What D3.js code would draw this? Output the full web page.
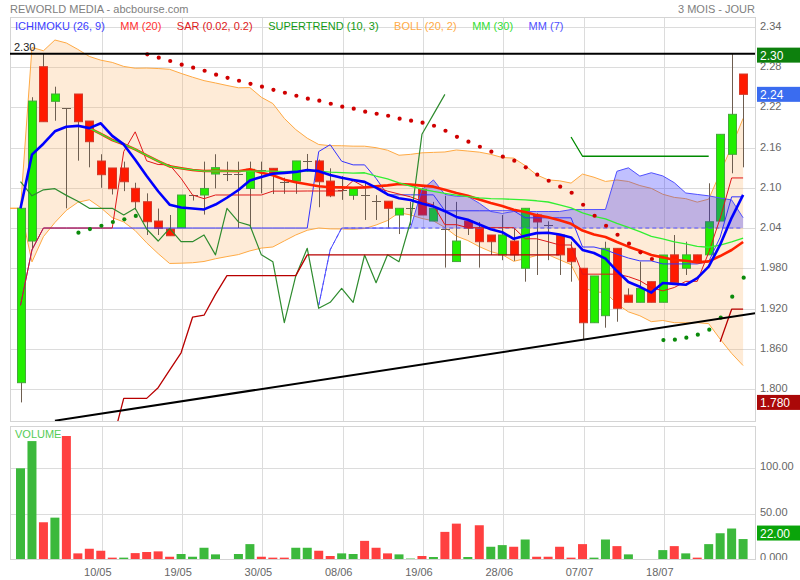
<!DOCTYPE html>
<html><head><meta charset="utf-8">
<script src="https://cdn.jsdelivr.net/npm/d3@7"></script>
<style>body{margin:0;background:#fff}svg{display:block;font-family:"Liberation Sans",Arial,sans-serif}</style>
</head><body><svg id="c" width="800" height="580"></svg>
<script>
// ---- data ----
const opens =[1.8094,2.0206,2.2805,2.2289,2.2185,2.2398,2.1995,2.1399,2.1295,2.1295,2.0992,2.0792,2.0504,2.0385,2.0405,2.0892,2.0892,2.1205,2.1205,2.1205,2.099,2.1265,2.129,2.109,2.11,2.14,2.14,2.11,2.097,2.0887,2.0887,2.080,2.080,2.0594,2.0694,2.0977,2.0504,2.0385,1.990,2.0504,2.0396,2.0296,2.0,2.0206,1.980,2.0594,2.044,2.0296,2.0097,1.980,1.8988,1.9093,2.0097,1.940,1.9293,1.960,1.9293,2.0,1.980,2.0,2.0,2.0504,2.1499,2.2696];
const highs =[2.0694,2.235,2.30,2.2507,2.2185,2.2398,2.1995,2.15,2.1295,2.139,2.1075,2.0917,2.069,2.0594,2.0892,2.0892,2.139,2.15,2.139,2.139,2.139,2.139,2.129,2.115,2.14,2.1504,2.142,2.129,2.1175,2.0986,2.109,2.089,2.080,2.0694,2.079,2.10,2.079,2.088,2.079,2.0504,2.049,2.0296,2.0594,2.0396,2.0694,2.062,2.05,2.0296,2.0196,1.980,1.9685,2.0196,2.0097,1.950,1.9898,1.96,1.9998,2.0296,2.0196,2.0,2.1067,2.1797,2.30,2.2696];
const lows  =[1.780,2.008,2.1985,2.20,2.0694,2.1404,2.1305,2.10,2.09,2.095,2.0668,2.0296,2.0296,2.0285,2.0405,2.081,2.06,2.099,2.11,2.04,2.04,2.0917,2.0907,2.091,2.091,2.124,2.071,2.086,2.082,2.082,2.052,2.052,2.0396,2.031,2.044,2.0594,2.0504,1.981,1.990,2.0296,1.981,1.9998,1.992,1.991,1.96,1.97,1.992,1.97,1.96,1.873,1.8988,1.8914,1.9003,1.9293,1.9293,1.9293,1.9293,1.9585,1.97,1.9898,2.0,2.0504,2.1216,2.1305];
const closes=[2.0694,2.2293,2.1985,2.2398,2.2185,2.1985,2.1687,2.1195,2.0986,2.109,2.0792,2.0494,2.0396,2.0285,2.0892,2.0892,2.099,2.13,2.1205,2.1205,2.1275,2.1265,2.1216,2.109,2.14,2.14,2.109,2.088,2.097,2.0986,2.0887,2.080,2.0694,2.0694,2.0694,2.0594,2.0694,2.0385,2.0206,2.0396,2.0196,2.0196,2.0296,2.0,2.0694,2.049,2.044,2.0,1.9898,1.8988,1.9685,2.0097,1.9203,1.9293,1.950,1.9293,1.9998,1.9585,2.0,1.9898,2.0494,2.1797,2.2095,2.2393];
const volumes=[100,130,40.5,45.6,135.6,6.2,11.3,9.1,1.5,1.5,6.5,7.7,8.4,2.5,5.5,2.5,12.4,5.1,0,5.5,16.4,2.5,1.5,1.5,12.4,12.4,9.1,3.3,6.2,5.5,20,12.4,6.2,5.1,0.5,3.3,2.2,29.9,39,2.2,37.2,13.5,15.3,13.5,21.5,2.5,2.5,13.5,1.5,16.4,1.5,21.5,14.2,5.1,0,0,9.8,14.2,6.2,1.5,16.4,28.4,33.6,22];
const sarValues=[null,null,null,null,null,2.033,2.0385,2.0434,2.049,2.053,2.058,2.299,2.294,2.289,2.2835,2.279,2.2745,2.2686,2.264,2.2596,2.255,2.2507,2.246,2.2417,2.2372,2.2328,2.2298,2.2253,2.2209,2.2179,2.2134,2.2104,2.2074,2.203,2.2,2.197,2.1925,2.185,2.176,2.1687,2.1612,2.1538,2.1463,2.1404,2.1305,2.1195,2.1105,2.1016,2.0926,2.0747,2.0583,2.0434,2.03,2.0166,2.0038,1.9938,1.873,1.8735,1.8765,1.881,1.8884,1.9063,1.9376,1.966];
const superLow=[null,null,null,null,null,null,null,null,1.72,1.786,1.786,1.786,1.802,1.828,1.854,1.907,1.910,1.941,1.969,1.969,1.969,1.969,1.969,1.969,1.969,2.0,2.0,2.0,2.0,2.0,2.0,2.0,2.0,2.0,2.0,2.0,2.0,2.0,2.0,2.0,2.0,2.0,2.0,2.0,2.0,2.0,2.0,2.0,null,null,null,null,null,null,null,null,null,null,null,null,null,1.8705,1.919,1.919];
const superHigh=[null,null,null,null,null,null,null,null,null,null,null,null,null,null,null,null,null,null,null,null,null,null,null,null,null,null,null,null,null,null,null,null,null,null,null,null,null,null,null,null,null,null,null,null,null,null,null,null,2.1757,2.147,2.147,2.147,2.147,2.147,2.147,2.147,2.147,2.147,2.147,2.147,2.147,null,null,null];
const dateTickIndex=[7,14,21,28,35,42,49,56];
const dateTickLabels=["10/05","19/05","30/05","08/06","19/06","28/06","07/07","18/07"];
const priceTicks=[2.34,2.28,2.22,2.16,2.10,2.04,1.98,1.92,1.86,1.80];
const volumeTicks=[0,50,100];
const resistanceLevel=2.30;
const trendIdx=[3,64.04];
const trendVal=[1.7527,1.9128];
const legendItems=[["ICHIMOKU (26, 9)","#3c3cff"],["MM (20)","#ff3030"],["SAR (0.02, 0.2)","#dd2020"],["SUPERTREND (10, 3)","#149a14"],["BOLL (20, 2)","#ffaa44"],["MM (30)","#33dd33"],["MM (7)","#5050ff"]];

// ---- layout ----
const L=10,R=755,T=17,B=421,VT=426,VB=559;
const n=closes.length, idx=d3.range(n);
const x=d3.scaleLinear().domain([0,n-1]).range([20.5,743.1]);
const y=d3.scaleLinear().domain([1.80,2.34]).range([389,26.8]);
const yv=d3.scaleLinear().domain([0,100]).range([559,468.3]);
const fmtP=v=>v>=2?v.toFixed(2):v.toFixed(3);
const fmtV=v=>v===0?"0.000":v.toFixed(2);

// ---- indicators ----
const win=(arr,k,i)=>arr.slice(Math.max(0,i-k+1),i+1);
const sma=(k,i)=>d3.mean(win(closes,k,i));
const mid=(k,i)=>(d3.max(win(highs,k,i))+d3.min(win(lows,k,i)))/2;
const mm7=idx.map(i=>({i,v:sma(7,i)}));
const mm20=idx.filter(i=>i>=6).map(i=>({i,v:sma(20,i)}));
const mm30=idx.filter(i=>i>=6).map(i=>({i,v:sma(30,i)}));
const boll=idx.map(i=>{const w=win(closes,20,i),m=d3.mean(w),sd=Math.sqrt(d3.mean(w,v=>(v-m)**2));return {i,up:m+2*sd,lo:m-2*sd};});
boll.unshift({i:x.invert(L),up:boll[0].up,lo:boll[0].lo});
const tenkan=idx.map(i=>mid(9,i)), kijun=idx.map(i=>mid(26,i));
const cloud=idx.filter(j=>j>=26).map(j=>({i:j,a:(tenkan[j-26]+kijun[j-26])/2,b:mid(52,j-26)}));
const chikou=idx.filter(i=>i+26<n).map(i=>({i,v:closes[i+26]}));

const svg=d3.select("#c");
const defs=svg.append("defs");
defs.append("clipPath").attr("id","pc").append("rect").attr("x",L).attr("y",T).attr("width",R-L).attr("height",B-T);
defs.append("clipPath").attr("id","vc").append("rect").attr("x",L).attr("y",VT).attr("width",R-L).attr("height",VB-VT);
defs.append("clipPath").attr("id","ac").append("rect").attr("x",R).attr("y",VT).attr("width",45).attr("height",VB-VT+1);

// titles
svg.append("text").attr("x",L).attr("y",13).attr("font-size",11).attr("fill","#808080").text("REWORLD MEDIA - abcbourse.com");
svg.append("text").attr("x",R).attr("y",13).attr("text-anchor","end").attr("font-size",11).attr("fill","#808080").text("3 MOIS - JOUR");

// grids
const grid=svg.append("g").attr("stroke","#dcdcdc").attr("stroke-width",1);
grid.selectAll(".hg").data(priceTicks).join("line").attr("x1",L).attr("x2",R).attr("y1",d=>Math.round(y(d))+0.5).attr("y2",d=>Math.round(y(d))+0.5);
grid.selectAll(".vg").data(volumeTicks.slice(1)).join("line").attr("x1",L).attr("x2",R).attr("y1",d=>Math.round(yv(d))+0.5).attr("y2",d=>Math.round(yv(d))+0.5);
grid.selectAll(".xg").data(dateTickIndex).join("line").attr("x1",d=>Math.round(x(d))+1.5).attr("x2",d=>Math.round(x(d))+1.5).attr("y1",T).attr("y2",B);
grid.selectAll(".xg2").data(dateTickIndex).join("line").attr("x1",d=>Math.round(x(d))+1.5).attr("x2",d=>Math.round(x(d))+1.5).attr("y1",VT).attr("y2",VB);
svg.append("rect").attr("x",L+0.5).attr("y",T+0.5).attr("width",R-L).attr("height",B-T).attr("fill","none").attr("stroke","#d4d4d4");
svg.append("rect").attr("x",L+0.5).attr("y",VT+0.5).attr("width",R-L).attr("height",VB-VT).attr("fill","none").attr("stroke","#d4d4d4");

const P=svg.append("g").attr("clip-path","url(#pc)");
// bollinger
P.append("path").datum(boll).attr("fill","rgba(250,175,95,0.25)").attr("d",d3.area().x(d=>x(d.i)).y0(d=>y(d.lo)).y1(d=>y(d.up)));
["up","lo"].forEach(k=>P.append("path").datum(boll).attr("fill","none").attr("stroke","#ffaa44").attr("stroke-width",1).attr("d",d3.line().x(d=>x(d.i)).y(d=>y(d[k]))));

// candles
const cw=8;
const cg=P.append("g");
cg.selectAll(".w").data(idx).join("line").attr("x1",i=>Math.round(x(i))+0.5).attr("x2",i=>Math.round(x(i))+0.5)
  .attr("y1",i=>y(highs[i])).attr("y2",i=>y(lows[i])).attr("stroke","#6e5e50").attr("stroke-width",1);
const bodies=idx.filter(i=>Math.abs(y(opens[i])-y(closes[i]))>=1.5);
const dojis=idx.filter(i=>Math.abs(y(opens[i])-y(closes[i]))<1.5);
cg.selectAll(".b").data(bodies).join("rect").attr("x",i=>Math.round(x(i))-cw/2+0.5).attr("width",cw)
  .attr("y",i=>y(Math.max(opens[i],closes[i]))).attr("height",i=>Math.abs(y(opens[i])-y(closes[i])))
  .attr("fill",i=>closes[i]>opens[i]?"#22ee00":"#ff1a00").attr("stroke",i=>closes[i]>opens[i]?"#45a83a":"#d23a2a").attr("stroke-width",1);
cg.selectAll(".d").data(dojis).join("line").attr("x1",i=>Math.round(x(i))-cw/2).attr("x2",i=>Math.round(x(i))+cw/2+1)
  .attr("y1",i=>Math.round(y(closes[i]))+0.5).attr("y2",i=>Math.round(y(closes[i]))+0.5).attr("stroke","#6e5e50");

// ichimoku cloud
P.append("path").datum(cloud).attr("fill","rgba(30,30,255,0.28)").attr("d",d3.area().x(d=>x(d.i)).y0(d=>y(d.b)).y1(d=>y(d.a)));
P.append("path").datum(cloud).attr("fill","none").attr("stroke","#5050ff").attr("stroke-width",1).attr("stroke-dasharray","4,3").attr("d",d3.line().x(d=>x(d.i)).y(d=>y(d.b)));
P.append("path").datum(cloud).attr("fill","none").attr("stroke","#5050ff").attr("stroke-width",1).attr("d",d3.line().x(d=>x(d.i)).y(d=>y(d.a)));

const line=d3.line().defined(d=>d.v!=null).x(d=>x(d.i)).y(d=>y(d.v));
const draw=(data,color,w)=>P.append("path").datum(data).attr("fill","none").attr("stroke",color).attr("stroke-width",w).attr("stroke-linejoin","round").attr("d",line);
draw(idx.map(i=>({i,v:kijun[i]})),"#3333ff",1);
draw(idx.map(i=>({i,v:tenkan[i]})),"#e01818",1);
draw(chikou,"#2e8b2e",1.2);
draw(idx.map(i=>({i,v:superLow[i]})),"#b80000",1.3);
draw(idx.map(i=>({i,v:superHigh[i]})),"#008a00",1.3);
draw(mm20,"#ff2200",2.6);
draw(mm30,"#33ee33",1.3);
draw(mm7,"#0000ff",2.6);

// SAR
P.selectAll(".sar").data(idx.filter(i=>sarValues[i]!=null)).join("circle").attr("cx",i=>x(i)+0.6).attr("cy",i=>y(sarValues[i])).attr("r",2.1)
  .attr("fill",i=>sarValues[i]>closes[i]?"#d00000":"#0a8a0a");

// resistance & trend lines
P.append("line").attr("x1",L).attr("x2",R).attr("y1",y(resistanceLevel)).attr("y2",y(resistanceLevel)).attr("stroke","#000").attr("stroke-width",2);
P.append("line").attr("x1",x(trendIdx[0])).attr("x2",x(trendIdx[1])).attr("y1",y(trendVal[0])).attr("y2",y(trendVal[1])).attr("stroke","#000").attr("stroke-width",2);
svg.append("text").attr("x",14).attr("y",y(resistanceLevel)-2.5).attr("font-size",11).attr("fill","#222").text(resistanceLevel.toFixed(2));

// legend
let lx=15;
legendItems.forEach(([t,c])=>{const tx=svg.append("text").attr("x",lx).attr("y",29.5).attr("font-size",11).attr("fill",c).text(t);lx+=tx.node().getComputedTextLength()+15.5;});

// volume
const V=svg.append("g").attr("clip-path","url(#vc)");
V.selectAll("rect").data(idx.filter(i=>volumes[i]>0)).join("rect").attr("x",i=>x(i)-4.5).attr("width",9)
  .attr("y",i=>yv(volumes[i])).attr("height",i=>VB-yv(volumes[i]))
  .attr("fill",i=>(i===0||closes[i]>=closes[i-1])?"#3cb93c":"#ff4040");
svg.append("text").attr("x",15).attr("y",438).attr("font-size",11).attr("fill","#55cc55").text("VOLUME");

// axes
const ax=svg.append("g").attr("transform",`translate(${R+2},-1)`).call(d3.axisRight(y).tickValues(priceTicks).tickFormat(fmtP).tickSize(0).tickPadding(3));
ax.select(".domain").remove();
ax.selectAll("text").attr("font-size",11).attr("fill","#666").attr("font-family","Liberation Sans, Arial, sans-serif");
const avx=svg.append("g").attr("clip-path","url(#ac)").append("g").attr("transform",`translate(${R+2},-2)`).call(d3.axisRight(yv).tickValues(volumeTicks).tickFormat(fmtV).tickSize(0).tickPadding(3));
avx.select(".domain").remove();
avx.selectAll("text").attr("font-size",11).attr("fill","#666").attr("font-family","Liberation Sans, Arial, sans-serif");
const axb=svg.append("g").attr("transform",`translate(0,${VB})`).call(d3.axisBottom(d3.scaleLinear().domain(x.domain()).range(x.range().map(v=>v-3.5))).tickValues(dateTickIndex).tickFormat((d,k)=>dateTickLabels[k]).tickSize(0).tickPadding(9));
axb.select(".domain").remove();
axb.selectAll("text").attr("font-size",11).attr("fill","#666").attr("font-family","Liberation Sans, Arial, sans-serif");

// value boxes
const box=(cy,txt,fill)=>{svg.append("rect").attr("x",R+2).attr("y",cy-7.5).attr("width",43).attr("height",15).attr("fill",fill);
  svg.append("text").attr("x",R+5).attr("y",cy+4.5).attr("font-size",12).attr("fill","#fff").text(txt);};
const hi=d3.max(highs), lo=d3.min(lows), last=closes[n-1], lastV=volumes[n-1];
box(y(hi)+1.5,fmtP(hi),"#0d800d");
box(y(last),fmtP(last),"#3a6cf0");
box(y(lo),fmtP(lo),"#aa0808");
box(yv(lastV)-6,lastV.toFixed(2),"#0aa40a");
</script></body></html>
